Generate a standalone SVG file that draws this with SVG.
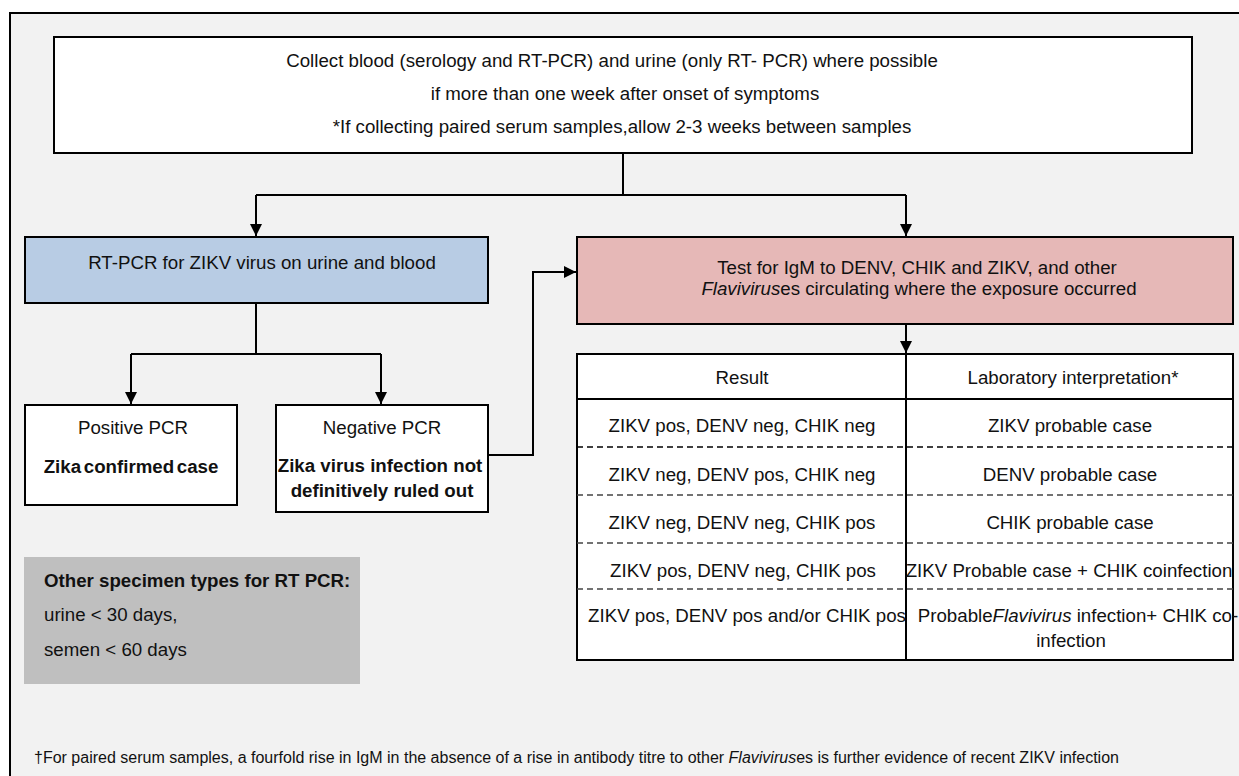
<svg xmlns="http://www.w3.org/2000/svg" width="1239" height="776" viewBox="0 0 1239 776">
<defs>
<marker id="arr" viewBox="0 0 12 12" refX="12" refY="6" markerWidth="12" markerHeight="12" markerUnits="userSpaceOnUse" orient="auto">
<path d="M0,0 L12,6 L0,12 Z" fill="#000"/>
</marker>
<style>
text{font-family:"Liberation Sans",Arial,sans-serif;font-size:18.7px;fill:#111}
text.f{font-size:16px}
.c{text-anchor:middle}
.b{font-weight:bold}
.i{font-style:italic}
.box{stroke:#000;stroke-width:2}
.ln{fill:none;stroke:#000;stroke-width:2}
.dash{stroke:#444;stroke-width:1.3;stroke-dasharray:6,4}
</style>
</defs>
<rect x="0" y="0" width="1239" height="776" fill="#fff"/>
<rect id="frame" x="10" y="13" width="1240" height="780" fill="#f2f2f2" stroke="#000" stroke-width="2"/>

<g id="connectors">
<path class="ln" d="M623,153 V195" stroke-width="3"/>
<path class="ln" d="M256,195 H906"/>
<path class="ln" d="M256,195 V236" marker-end="url(#arr)"/>
<path class="ln" d="M906,195 V236" marker-end="url(#arr)"/>
<path class="ln" d="M256,303 V354 M131,354 H381"/>
<path class="ln" d="M131,354 V404" marker-end="url(#arr)"/>
<path class="ln" d="M381,354 V404" marker-end="url(#arr)"/>
<path class="ln" d="M488,455 H533 V272 H576" marker-end="url(#arr)"/>
<path class="ln" d="M906,324 V353" marker-end="url(#arr)"/>
</g>

<g id="collect">
<rect class="box" x="54" y="37" width="1138" height="116" fill="#fff"/>
<text class="c" x="612" y="67">Collect blood (serology and RT-PCR) and urine (only RT-  PCR) where possible</text>
<text class="c" x="625" y="100">if more than one week after onset of symptoms</text>
<text class="c" x="622" y="133">*If collecting paired serum samples,allow 2-3 weeks between samples</text>
</g>

<g id="rtpcr">
<rect class="box" x="25" y="237" width="463" height="66" fill="#b8cce4"/>
<text class="c" x="262" y="269">RT-PCR for ZIKV virus on urine and blood</text>
</g>

<g id="igm">
<rect class="box" x="577" y="237" width="656" height="87" fill="#e6b8b7"/>
<text class="c" x="917" y="274">Test for IgM to DENV, CHIK and ZIKV, and other</text>
<text class="c" x="919" y="295"><tspan class="i">Flavivirus</tspan>es circulating where the exposure occurred</text>
</g>

<g id="positive">
<rect class="box" x="25" y="405" width="212" height="100" fill="#fff"/>
<text class="c" x="133" y="434">Positive PCR</text>
<text class="c b" x="131" y="473" word-spacing="-2.5">Zika confirmed case</text>
</g>

<g id="negative">
<rect class="box" x="276" y="405" width="212" height="107" fill="#fff"/>
<text class="c" x="382" y="434">Negative PCR</text>
<text class="c b" x="380" y="472">Zika virus infection not</text>
<text class="c b" x="382" y="497">definitively ruled out</text>
</g>

<g id="table">
<rect class="box" x="577" y="354" width="656" height="306" fill="#fff"/>
<line x1="577" y1="399" x2="1233" y2="399" stroke="#000" stroke-width="2"/>
<line x1="577" y1="447" x2="1233" y2="447" stroke="#000" stroke-width="1.6" stroke-dasharray="6,4"/>
<line class="dash" x1="577" y1="495" x2="1233" y2="495"/>
<line class="dash" x1="577" y1="543" x2="1233" y2="543"/>
<line class="dash" x1="577" y1="589" x2="1233" y2="589"/>
<line x1="906" y1="354" x2="906" y2="660" stroke="#000" stroke-width="2"/>
<text class="c" x="742" y="384">Result</text>
<text class="c" x="1073" y="384">Laboratory interpretation*</text>
<text class="c" x="742" y="432">ZIKV pos, DENV neg, CHIK neg</text>
<text class="c" x="1070" y="432">ZIKV probable case</text>
<text class="c" x="742" y="481">ZIKV neg, DENV pos, CHIK neg</text>
<text class="c" x="1070" y="481">DENV probable case</text>
<text class="c" x="742" y="529">ZIKV neg, DENV neg, CHIK pos</text>
<text class="c" x="1070" y="529">CHIK probable case</text>
<text class="c" x="743" y="577">ZIKV pos, DENV neg, CHIK pos</text>
<text class="c" x="1069" y="577">ZIKV Probable case + CHIK coinfection</text>
<text class="c" x="747" y="622">ZIKV pos, DENV pos and/or CHIK pos</text>
<text class="c" x="1078" y="622">Probable<tspan class="i">Flavivirus</tspan> infection+ CHIK co-</text>
<text class="c" x="1071" y="647">infection</text>
</g>

<g id="other">
<rect x="24" y="557" width="336" height="127" fill="#bfbfbf"/>
<text class="b" x="44" y="587">Other specimen types for RT PCR:</text>
<text x="44" y="621">urine &lt; 30 days,</text>
<text x="44" y="656">semen &lt; 60 days</text>
</g>

<g id="footnote">
<text class="f" x="34" y="763">†For paired serum samples, a fourfold rise in IgM in the absence of a rise in antibody titre to other <tspan class="i">Flavivirus</tspan>es is further evidence of recent ZIKV infection</text>
</g>
</svg>
